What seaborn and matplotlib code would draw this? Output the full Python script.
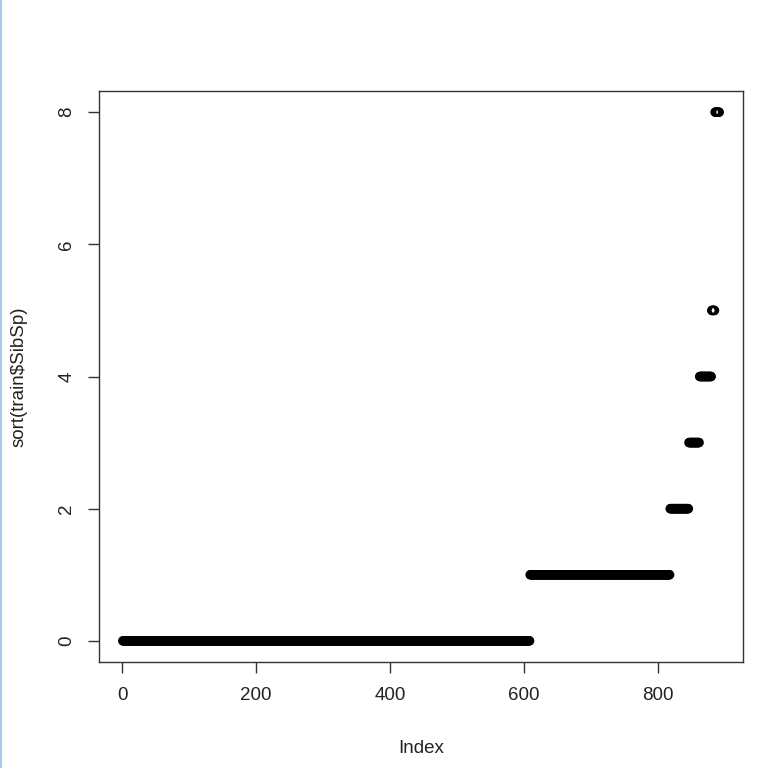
import numpy as np
import pandas as pd
import matplotlib
matplotlib.use("Agg")
import matplotlib.pyplot as plt
import seaborn as sns
from matplotlib.lines import Line2D

# SibSp values and how many passengers have each (sorted series)
sibsp_values = [0, 1, 2, 3, 4, 5, 8]
sibsp_counts = [608, 209, 28, 16, 18, 5, 7]
x_ticks = [0, 200, 400, 600, 800]
y_ticks = [0, 2, 4, 6, 8]

sorted_vals = np.repeat(sibsp_values, sibsp_counts)
df = pd.DataFrame({"Index": np.arange(1, len(sorted_vals) + 1),
                   "value": sorted_vals})

sns.set_theme(style="white")
plt.rcParams['font.family'] = ['Liberation Sans', 'DejaVu Sans']

fig = plt.figure(figsize=(7.79, 7.68), dpi=100)
ax = fig.add_axes([99/779, 1 - 662/768, 644/779, 571/768])

sns.scatterplot(data=df, x="Index", y="value", ax=ax, marker="o",
                facecolor="none", edgecolor="black", s=30, linewidth=1.4)

n = len(sorted_vals)
pad_x = (n - 1) * 0.04
ax.set_xlim(1 - pad_x, n + pad_x)
ax.set_ylim(-0.32, 8.32)
ax.set_xticks(x_ticks)
ax.set_yticks(y_ticks)
fs = 13.5
ax.set_xticklabels([str(t) for t in x_ticks], fontsize=fs)
ax.set_yticklabels([str(t) for t in y_ticks], fontsize=fs, rotation=90, va="center")
ax.tick_params(axis="both", direction="out", length=8, width=1, color="#333333",
               bottom=True, left=True, labelcolor="#222222")
ax.tick_params(axis="x", pad=10)
ax.tick_params(axis="y", pad=9)
for sp in ax.spines.values():
    sp.set_color("#333333")
    sp.set_linewidth(1)
    sp.set_visible(True)
ax.set_xlabel("Index", fontsize=fs, color="#222222", labelpad=26)
ax.set_ylabel("sort(train$SibSp)", fontsize=fs, color="#222222", labelpad=22)

fig.add_artist(Line2D([1/779, 1/779], [0, 1], transform=fig.transFigure,
                      color="#aac8e8", linewidth=1.5))

fig.savefig("out.png", dpi=100, facecolor="white")
